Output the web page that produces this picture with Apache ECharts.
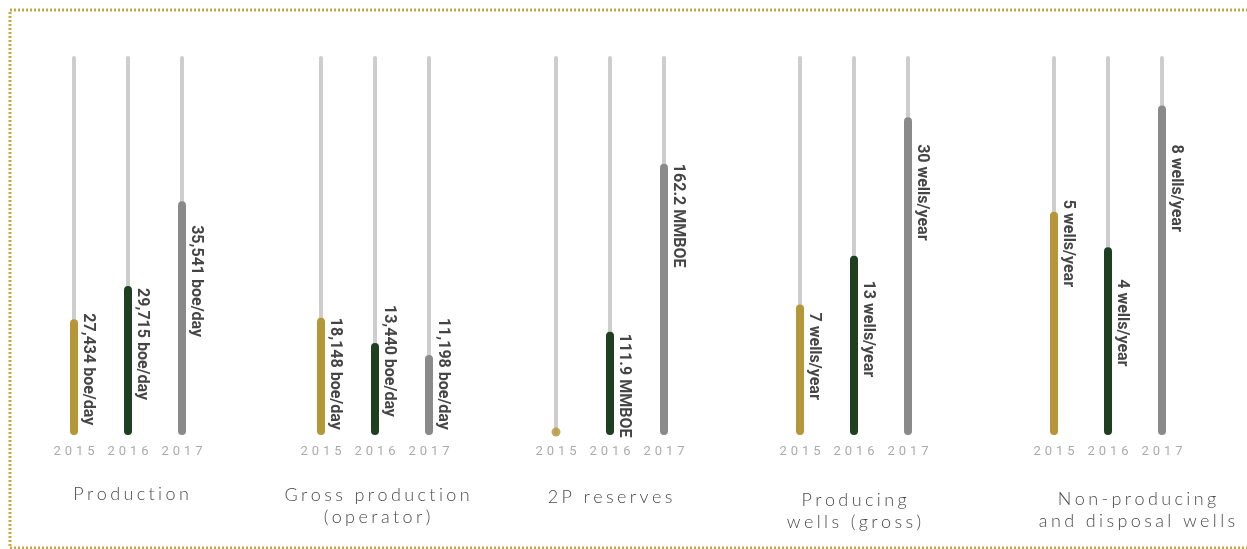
<!DOCTYPE html>
<html>
<head>
<meta charset="utf-8">
<script src="https://cdn.jsdelivr.net/npm/echarts@6/dist/echarts.min.js"></script>
<style>
  html, body { margin: 0; padding: 0; background: #ffffff; overflow: hidden; }
  #chart { width: 1247px; height: 549px; }
</style>
</head>
<body>
<div id="chart"></div>
<script>
// ---- data ----
const years = ['2015', '2016', '2017'];
const groupTitles = ['Production', 'Gross production\n(operator)', '2P reserves', 'Producing\nwells (gross)', 'Non-producing\nand disposal wells'];
const units = ['boe/day', 'boe/day', 'MMBOE', 'wells/year', 'wells/year'];
const production = [27434, 29715, 35541];
const grossProduction = [18148, 13440, 11198];
const reserves2P = [null, 111.9, 162.2];
const producingWells = [7, 13, 30];
const nonProducingWells = [5, 4, 8];

const groupValues = [production, grossProduction, reserves2P, producingWells, nonProducingWells];

// ---- layout / style ----
const yearColors = ['#b59639', '#1f3f21', '#8a8a8a'];
const trackColor = '#cdcdcd';
const gridLefts = [47, 294, 529, 773, 1027];
const gridWidth = 162;
const gridTop = 56;
const gridHeight = 379;
// per-panel value range of the hidden y axes
const axisRanges = [[19500, 45500], [-3800, 67200], [81, 194.5], [-9, 37.5], [-1.3, 9.4]];
// vertical shift of each value label from the top of its bar
const labelShift = [[-6, 2, 24], [0, -38, -37], [2, 2, 0], [8, 25, 27], [-12, 32, 39]];
const titlePos = [[131, 494], [377, 506], [610, 497], [854, 511], [1137, 510]];

// open letter spacing for the light captions
const spaced = s => s.split('\n').map(l => l.split('').join('\u2009\u200A')).join('\n');
const fmt = v => (Number.isInteger(v) ? v.toLocaleString('en-US') : String(v));

const grids = [], xAxes = [], yAxes = [], series = [], graphics = [];

groupValues.forEach((vals, g) => {
  const [mn, mx] = axisRanges[g];
  grids.push({ left: gridLefts[g], top: gridTop, width: gridWidth, height: gridHeight });
  // visible category axis (year labels) for the value bars
  xAxes.push({
    type: 'category', gridIndex: g, data: years,
    axisLine: { show: false }, axisTick: { show: false },
    axisLabel: { margin: 10, color: '#ababab', fontSize: 13, fontFamily: 'Roboto', formatter: spaced }
  });
  // hidden twin axis for the background tracks
  xAxes.push({ type: 'category', gridIndex: g, data: years, show: false });
  yAxes.push({ type: 'value', gridIndex: g, min: mn, max: mx, startValue: mn, show: false, splitLine: { show: false } });

  series.push({
    type: 'bar', xAxisIndex: 2 * g + 1, yAxisIndex: g, barWidth: 4, silent: true, z: 1,
    data: years.map(() => mx),
    itemStyle: { color: trackColor, borderRadius: 2 }
  });
  series.push({
    type: 'bar', xAxisIndex: 2 * g, yAxisIndex: g, barWidth: 8, z: 2,
    data: vals.map((v, i) => ({
      value: v,
      itemStyle: { color: yearColors[i], borderRadius: 4 },
      label: {
        show: v != null, position: [18, labelShift[g][i]], rotate: -90,
        align: 'left', verticalAlign: 'middle',
        formatter: () => fmt(v) + ' ' + units[g],
        color: '#454545', fontSize: 16, fontWeight: 'bold', fontFamily: 'Roboto'
      }
    }))
  });
  // years without a reported value get a dot on the baseline
  const missing = vals.map((v, i) => (v == null ? [years[i], mn] : null)).filter(Boolean);
  if (missing.length) {
    series.push({
      type: 'scatter', xAxisIndex: 2 * g, yAxisIndex: g, symbol: 'circle', symbolSize: 9,
      symbolOffset: [0, -3], clip: false, z: 3, data: missing,
      itemStyle: { color: yearColors[0] }
    });
  }

  graphics.push({
    type: 'text', x: titlePos[g][0], y: titlePos[g][1],
    style: {
      text: spaced(groupTitles[g]), align: 'center', verticalAlign: 'middle',
      textAlign: 'center', textVerticalAlign: 'middle',
      fill: '#4a4a4a', font: '300 18px Lato', lineHeight: 22
    }
  });
});

// dotted frame: top, left and bottom edges
graphics.push({
  type: 'polyline', shape: { points: [[1300, 10], [10, 10], [10, 548], [1300, 548]] },
  style: { fill: null, stroke: '#c9a546', lineWidth: 3, lineDash: [2, 2] }, z: -1
});

const chart = echarts.init(document.getElementById('chart'));
chart.setOption({
  animation: false,
  grid: grids, xAxis: xAxes, yAxis: yAxes, series: series, graphic: graphics
});
</script>
</body>
</html>
